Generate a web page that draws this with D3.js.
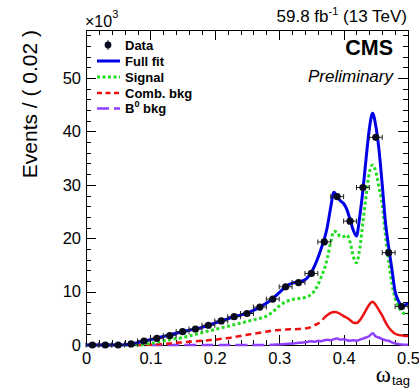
<!DOCTYPE html>
<html>
<head>
<meta charset="utf-8">
<script src="https://cdn.jsdelivr.net/npm/d3@7"></script>
<style>
  html, body { margin: 0; padding: 0; background: #fff; }
  svg { display: block; font-family: "Liberation Sans", Arial, Helvetica, sans-serif; }
  .axis path, .axis line { stroke: #000; stroke-width: 1; shape-rendering: crispEdges; }
  .axis text { font-size: 16.5px; fill: #000; }
</style>
</head>
<body>
<svg id="chart" width="419" height="389"></svg>
<script>
// Data: events per 0.02 bin (in units of 10^3) vs mistag probability
const binCenters = [0.01, 0.03, 0.05, 0.07, 0.09, 0.11, 0.13, 0.15, 0.17, 0.19,
                    0.21, 0.23, 0.25, 0.27, 0.29, 0.31, 0.33, 0.35, 0.37, 0.39,
                    0.41, 0.43, 0.45, 0.47, 0.49];
const dataEvents = [0, 0, 0, 0.2, 0.75, 1.25, 1.75, 2.5, 3.0, 3.7,
                    4.5, 5.3, 5.9, 7.1, 8.6, 10.9, 11.7, 13.4, 19.3, 27.8,
                    23.2, 29.5, 38.9, 17.3, 7.2];
const binHalfWidth = 0.01;

// Fit projections sampled along omega_tag
const fitX = [0, 0.01, 0.02, 0.03, 0.04, 0.05, 0.06, 0.07, 0.08, 0.09,
              0.10, 0.11, 0.12, 0.13, 0.14, 0.15, 0.16, 0.17, 0.18, 0.19,
              0.20, 0.21, 0.22, 0.23, 0.24, 0.25, 0.26, 0.27, 0.28, 0.29,
              0.30, 0.31, 0.32, 0.33, 0.34, 0.345, 0.35, 0.355, 0.36, 0.365,
              0.37, 0.375, 0.38, 0.385, 0.39, 0.395, 0.40, 0.405, 0.41, 0.415,
              0.42, 0.425, 0.43, 0.435, 0.44, 0.445, 0.45, 0.455, 0.46, 0.465,
              0.47, 0.475, 0.48, 0.485, 0.49, 0.495, 0.50];
const fullFit = [0, 0, 0, 0, 0, 0, 0.05, 0.2, 0.45, 0.75,
                 1.0, 1.3, 1.6, 1.9, 2.2, 2.5, 2.75, 3.0, 3.3, 3.7,
                 4.1, 4.5, 4.9, 5.3, 5.6, 6.0, 6.5, 7.1, 7.8, 8.7,
                 9.8, 10.9, 11.6, 11.8, 12.2, 12.8, 13.6, 14.8, 16.3, 18.0,
                 19.8, 22.3, 25.8, 28.6, 27.8, 27.0, 26.5, 25.4, 23.5, 21.5,
                 20.4, 24.0, 29.0, 35.0, 40.5, 43.4, 41.0, 36.5, 30.0, 23.0,
                 18.3, 14.2, 10.0, 8.3, 7.5, 7.5, 7.8];
const signal = [0, 0, 0, 0, 0, 0, 0, 0, 0, 0.1,
                0.3, 0.5, 0.75, 1.0, 1.2, 1.4, 1.7, 2.0, 2.3, 2.6,
                2.9, 3.2, 3.5, 3.8, 4.1, 4.4, 4.7, 5.0, 5.4, 6.2,
                7.3, 8.1, 8.5, 8.7, 8.9, 9.1, 9.5, 10.2, 11.2, 12.7,
                14.2, 16.4, 19.3, 21.3, 21.1, 20.3, 20.3, 20.6, 19.3, 16.6,
                15.4, 18.0, 23.0, 28.0, 32.3, 33.7, 32.5, 29.5, 26.3, 20.5,
                15.8, 11.5, 8.8, 7.3, 6.3, 5.9, 5.9];
const combBkg = [0, 0, 0, 0, 0, 0, 0, 0, 0, 0,
                 0.05, 0.1, 0.2, 0.3, 0.4, 0.5, 0.6, 0.7, 0.8, 0.9,
                 1.0, 1.15, 1.3, 1.5, 1.7, 1.9, 2.1, 2.3, 2.5, 2.7,
                 2.8, 2.9, 2.95, 3.0, 3.1, 3.2, 3.4, 3.7, 4.0, 4.5,
                 5.1, 5.6, 6.0, 6.2, 6.1, 5.8, 5.4, 5.1, 4.7, 4.2,
                 4.1, 4.6, 5.5, 6.6, 7.6, 8.1, 7.5, 6.5, 5.5, 4.3,
                 3.3, 2.6, 2.1, 1.9, 1.8, 1.7, 1.7];
const b0Bkg = [0, 0, 0, 0, 0, 0, 0, 0, 0, 0,
               0, 0, 0, 0, 0, 0, 0, 0, 0, 0,
               0, 0, 0, 0, 0, 0, 0, 0, 0, 0.05,
               0.1, 0.2, 0.3, 0.4, 0.5, 0.6, 0.7, 0.6, 0.8, 0.7,
               0.9, 1.0, 0.9, 1.1, 1.2, 1.0, 1.1, 0.9, 0.8, 0.9,
               0.8, 1.0, 1.2, 1.4, 1.7, 2.2, 1.6, 1.4, 1.1, 0.9,
               0.8, 0.5, 0.3, 0.2, 0.1, 0.05, 0.0];

const xMajorTicks = [0, 0.1, 0.2, 0.3, 0.4, 0.5];
const xMinorTicks = [0.02, 0.04, 0.06, 0.08, 0.12, 0.14, 0.16, 0.18, 0.22, 0.24, 0.26, 0.28,
                     0.32, 0.34, 0.36, 0.38, 0.42, 0.44, 0.46, 0.48];
const yMajorTicks = [0, 10, 20, 30, 40, 50];
const yMinorTicks = [2, 4, 6, 8, 12, 14, 16, 18, 22, 24, 26, 28, 32, 34, 36, 38, 42, 44, 46, 48, 52, 54, 56, 58];

const colors = { fit: "#0000e6", sig: "#22dd22", comb: "#ee1111", b0: "#9040ff", data: "#0a0a1e" };

const svg = d3.select("#chart");
const frameLeft = 86, frameRight = 408, frameTop = 30, frameBottom = 345;

const x = d3.scaleLinear().domain([0, 0.5]).range([frameLeft, frameRight]);
const y = d3.scaleLinear().domain([0, 59]).range([frameBottom, frameTop]);

// ---- axes (ticks point inward, mirrored on top/right) ----
function addAxis(gen, tx, ty) {
  return svg.append("g").attr("class", "axis")
    .attr("transform", `translate(${tx},${ty})`).call(gen);
}
addAxis(d3.axisBottom(x).tickValues(xMajorTicks).tickSizeInner(-10).tickSizeOuter(0).tickPadding(7)
          .tickFormat(d => d === 0 ? "0" : d3.format(".1f")(d)), 0, frameBottom);
addAxis(d3.axisBottom(x).tickValues(xMinorTicks).tickSizeInner(-5).tickSizeOuter(0).tickFormat(""), 0, frameBottom);
addAxis(d3.axisTop(x).tickValues(xMajorTicks).tickSizeInner(-10).tickSizeOuter(0).tickFormat(""), 0, frameTop);
addAxis(d3.axisTop(x).tickValues(xMinorTicks).tickSizeInner(-5).tickSizeOuter(0).tickFormat(""), 0, frameTop);
addAxis(d3.axisLeft(y).tickValues(yMajorTicks).tickSizeInner(-10).tickSizeOuter(0).tickPadding(5)
          .tickFormat(d3.format("d")), frameLeft, 0);
addAxis(d3.axisLeft(y).tickValues(yMinorTicks).tickSizeInner(-5).tickSizeOuter(0).tickFormat(""), frameLeft, 0);
addAxis(d3.axisRight(y).tickValues(yMajorTicks).tickSizeInner(-10).tickSizeOuter(0).tickFormat(""), frameRight, 0);
addAxis(d3.axisRight(y).tickValues(yMinorTicks).tickSizeInner(-5).tickSizeOuter(0).tickFormat(""), frameRight, 0);
svg.selectAll(".axis .tick text").attr("font-size", "16.5px")
  .attr("font-family", "'Liberation Sans', Arial, sans-serif");

// ---- curves ----
const pts = (vals) => fitX.map((xv, i) => [xv, vals[i]]);
const line = d3.line().x(d => x(d[0])).y(d => y(d[1])).curve(d3.curveMonotoneX);
const plot = svg.append("g");

function drawCurve(data, color, width, dash) {
  plot.append("path").attr("d", line(data)).attr("fill", "none")
    .attr("stroke", color).attr("stroke-width", width)
    .attr("stroke-linejoin", "round")
    .attr("stroke-dasharray", dash || null);
}

const b0Pts = pts(b0Bkg);
drawCurve(b0Pts.filter(d => d[0] >= 0.1 && d[0] <= 0.3), colors.b0, 2.5, "12,5");
drawCurve(b0Pts.filter(d => d[0] >= 0.3), colors.b0, 2.5);
const combPts = pts(combBkg);
drawCurve(combPts.filter(d => d[0] <= 0.37), colors.comb, 2.5, "6,4");
drawCurve(combPts.filter(d => d[0] >= 0.37), colors.comb, 2.5);
drawCurve(pts(signal), colors.sig, 3, "3,2.5");
drawCurve(pts(fullFit), colors.fit, 3);

// ---- data points with bin-width error bars ----
const dataG = svg.append("g");
binCenters.forEach((c, i) => {
  const cy = y(dataEvents[i]);
  const x0 = x(c - binHalfWidth), x1 = x(c + binHalfWidth);
  const g = dataG.append("g").attr("stroke", "#222").attr("stroke-width", 1);
  g.append("line").attr("x1", x0).attr("x2", x1).attr("y1", cy).attr("y2", cy);
  g.append("line").attr("x1", x0).attr("x2", x0).attr("y1", cy - 2.5).attr("y2", cy + 2.5);
  g.append("line").attr("x1", x1).attr("x2", x1).attr("y1", cy - 2.5).attr("y2", cy + 2.5);
  dataG.append("circle").attr("cx", x(c)).attr("cy", cy).attr("r", 3.6).attr("fill", colors.data);
});

// ---- legend ----
const legend = svg.append("g").attr("font-size", "13px").attr("font-weight", "bold");
const legendRows = [
  { label: "Data", y: 45, type: "data" },
  { label: "Full fit", y: 61, type: "line", color: colors.fit, width: 3 },
  { label: "Signal", y: 77, type: "line", color: colors.sig, width: 3, dash: "3,2.5" },
  { label: "Comb. bkg", y: 93, type: "line", color: colors.comb, width: 2.5, dash: "5,3.5" },
  { label: "B", sup: "0", after: " bkg", y: 108.5, type: "line", color: colors.b0, width: 2.5, dash: "12,5" }
];
legendRows.forEach(r => {
  if (r.type === "data") {
    legend.append("line").attr("x1", 108).attr("x2", 108).attr("y1", r.y - 5).attr("y2", r.y + 5)
      .attr("stroke", "#222").attr("stroke-width", 1);
    legend.append("circle").attr("cx", 108).attr("cy", r.y).attr("r", 3.4).attr("fill", colors.data);
  } else {
    legend.append("line").attr("x1", 97).attr("x2", 120).attr("y1", r.y).attr("y2", r.y)
      .attr("stroke", r.color).attr("stroke-width", r.width).attr("stroke-dasharray", r.dash || null);
  }
  const t = legend.append("text").attr("x", 125).attr("y", r.y + 4.5).text(r.label);
  if (r.sup) {
    t.append("tspan").attr("font-size", "9px").attr("dy", -6).text(r.sup);
    t.append("tspan").attr("dy", 6).text(r.after);
  }
});

// ---- titles and labels ----
svg.append("text").attr("x", 407).attr("y", 22).attr("text-anchor", "end").attr("font-size", "17px")
  .call(t => {
    t.append("tspan").text("59.8 fb");
    t.append("tspan").attr("font-size", "11px").attr("dy", -7).text("-1");
    t.append("tspan").attr("dy", 7).text(" (13 TeV)");
  });
svg.append("text").attr("x", 393).attr("y", 55).attr("text-anchor", "end")
  .attr("font-size", "21.5px").attr("font-weight", "bold").text("CMS");
svg.append("text").attr("x", 393).attr("y", 82).attr("text-anchor", "end")
  .attr("font-size", "17px").attr("font-style", "italic").text("Preliminary");

svg.append("text").attr("x", 85).attr("y", 26.5).attr("font-size", "16px")
  .call(t => {
    t.append("tspan").text("\u00d710");
    t.append("tspan").attr("font-size", "11px").attr("dy", -9).text("3");
  });

svg.append("text").attr("transform", "translate(37,30) rotate(-90)").attr("text-anchor", "end")
  .attr("font-size", "21px").text("Events / ( 0.02 )");

// axis title: omega with "tag" subscript, kept inside the bottom edge
svg.append("text").attr("x", 391).attr("y", 382).attr("text-anchor", "end")
  .attr("font-size", "23px").attr("font-family", "'Liberation Serif', 'DejaVu Serif', serif").text("\u03c9");
svg.append("text").attr("x", 392).attr("y", 384.5).attr("font-size", "13px").text("tag");
</script>
</body>
</html>
